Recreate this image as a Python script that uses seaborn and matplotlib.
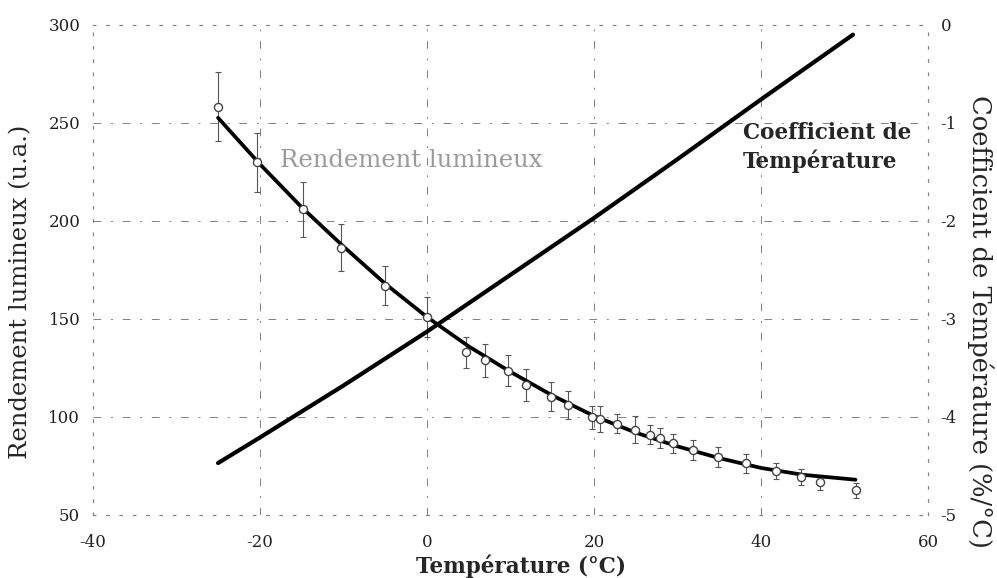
import matplotlib
matplotlib.use("Agg")
import matplotlib.pyplot as plt
import numpy as np
import pandas as pd
import seaborn as sns

# Measured luminous efficiency (left axis) with uncertainty
temp_meas = [-25, -20.3, -14.8, -10.3, -5, 0, 4.7, 6.9, 9.7, 11.8, 14.8, 16.9,
             19.8, 20.7, 22.7, 24.9, 26.7, 27.9, 29.4, 31.9, 34.8, 38.2,
             41.8, 44.8, 47.0, 51.3]
rend_meas = [258.3, 230.0, 205.9, 186.2, 167.0, 151.0, 133.0, 128.9, 123.6, 116.4,
             110.4, 106.2, 99.8, 99.0, 96.6, 93.5, 91.0, 89.4, 86.5, 83.1,
             79.7, 76.3, 72.5, 69.3, 66.6, 62.5]
rend_err = [17.5, 15, 14, 12, 10, 10, 8, 8.5, 8, 8, 7.5, 7,
            6, 6.5, 5, 7, 5, 5, 5, 5, 5, 5, 4, 4, 4, 4]

# Fitted luminous efficiency curve (left axis)
temp_fit = [-25, -20, -15, -10, -5, 0, 5, 10, 15, 20, 25, 30, 35, 40, 45, 51.3]
rend_fit = [252.6, 229, 207, 187, 168, 151, 136, 123, 111, 100.5, 92, 85,
            79, 74, 70.5, 68]

# Temperature coefficient (right axis, %/°C)
temp_coef = [-25, -20, -10, 0, 10, 20, 30, 40, 51]
coef = [-4.47, -4.21, -3.68, -3.13, -2.55, -1.97, -1.37, -0.76, -0.10]

x_ticks = [-40, -20, 0, 20, 40, 60]
left_ticks = [50, 100, 150, 200, 250, 300]
right_ticks = [-5, -4, -3, -2, -1, 0]

sns.set_theme(style="white")
plt.rcParams["font.family"] = ["DejaVu Serif"]
plt.rcParams["axes.unicode_minus"] = False

fig = plt.figure(figsize=(9.97, 5.78), dpi=100)
ax = fig.add_axes([0.093, 0.109, 0.838, 0.848])

grid_kw = dict(color="#808080", lw=0.7, ls=(0, (8, 10, 2, 10)), zorder=0)
for gx in [-20, 0, 20, 40]:
    ax.axvline(gx, **grid_kw)
for gy in [100, 150, 200, 250]:
    ax.axhline(gy, **grid_kw)

meas = pd.DataFrame({"T": temp_meas, "R": rend_meas, "err": rend_err})
fit = pd.DataFrame({"T": temp_fit, "R": rend_fit})
cdf = pd.DataFrame({"T": temp_coef, "C": coef})

ax.errorbar(meas["T"], meas["R"], yerr=meas["err"], fmt="none",
            ecolor="#555555", elinewidth=0.8, capsize=2.2, capthick=0.8, zorder=2)
sns.lineplot(data=fit, x="T", y="R", ax=ax, color="black", lw=2.7,
             sort=False, zorder=3)
sns.scatterplot(data=meas, x="T", y="R", ax=ax, s=34, marker="o",
                facecolor="white", edgecolor="#444444", linewidth=1.0, zorder=4)

ax.set_xlim(-40, 60)
ax.set_ylim(50, 300)
ax.set_xticks(x_ticks)
ax.set_yticks(left_ticks)
ax.set_xticklabels([str(t) for t in x_ticks])
ax.set_yticklabels([str(t) for t in left_ticks])
ax.tick_params(axis="x", labelsize=12, length=0, pad=14, colors="#222222")
ax.tick_params(axis="y", labelsize=12, length=0, pad=9, colors="#222222")
ax.set_xlabel("Température (°C)", fontsize=15.5, fontweight="bold")
ax.xaxis.set_label_coords(0.513, -0.080)
ax.set_ylabel("Rendement lumineux (u.a.)", fontsize=17.5)
ax.yaxis.set_label_coords(-0.072, 0.455)

ax2 = ax.twinx()
sns.lineplot(data=cdf, x="T", y="C", ax=ax2, color="black", lw=3.0, sort=False)
ax2.set_ylim(-5, 0)
ax2.set_yticks(right_ticks)
ax2.set_yticklabels([str(t) for t in right_ticks])
ax2.tick_params(axis="y", labelsize=12, length=0, pad=9, colors="#222222")
ax2.set_ylabel("Coefficient de Température (%/°C)", fontsize=18.5,
               rotation=-90, va="center")
ax2.yaxis.set_label_coords(1.062, 0.395)

for a in (ax, ax2):
    for sp in a.spines.values():
        sp.set_linestyle((0, (2, 10)))
        sp.set_color("#808080")
        sp.set_linewidth(0.8)

ax.text(-17.6, 231, "Rendement lumineux", fontsize=17.5, color="#9a9a9a",
        ha="left", va="center")
ax.text(37.8, 237.5, "Coefficient de\nTempérature", fontsize=15.5,
        fontweight="bold", ha="left", va="center", linespacing=1.3)

fig.savefig("out.png", dpi=100)
